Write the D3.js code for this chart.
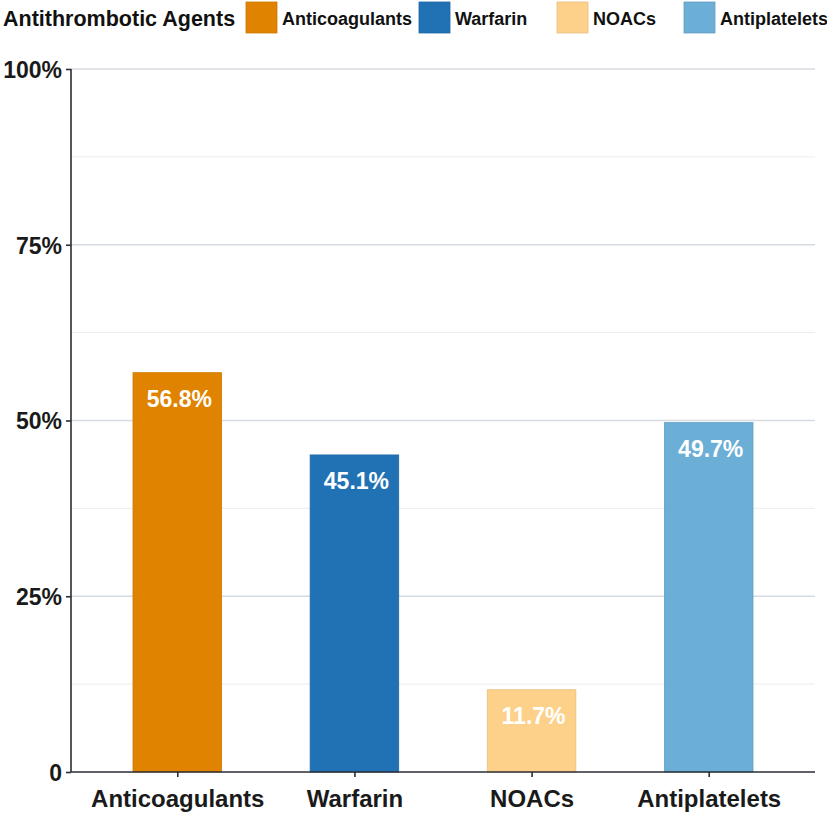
<!DOCTYPE html>
<html>
  <head>
    <meta charset="UTF-8">
    <title>Antithrombotic Agents</title>
    <script src="https://d3js.org/d3.v7.min.js"></script>
    <style>
      body { margin: 0; background: #fff; }
      text { font-family: "Liberation Sans", Arial, sans-serif; font-weight: bold; }
    </style>
  </head>

  <body>
    <div class="chart"></div>

    <script type="application/javascript">
      const categories = ["Anticoagulants", "Warfarin", "NOACs", "Antiplatelets"];
      const values = [56.8, 45.1, 11.7, 49.7];
      const colors = ["#e08300", "#2171b5", "#fdd18a", "#6baed6"];
      const yTicks = [0, 25, 50, 75, 100];
      const yMinor = [12.5, 37.5, 62.5, 87.5];
      const legendTitle = "Antithrombotic Agents";

      const width = 827, height = 814;
      const plotLeft = 71, plotRight = 815, plotTop = 69, plotBottom = 772;

      const svg = d3.select(".chart").append("svg")
              .attr("width", width)
              .attr("height", height)

      const x = d3.scalePoint().domain(categories).range([plotLeft, plotRight]).padding(0.6);
      const y = d3.scaleLinear().domain([0, 100]).range([plotBottom, plotTop]);
      const color = d3.scaleOrdinal().domain(categories).range(colors);
      const barW = x.step() * 0.5;

      // gridlines
      svg.append("g").selectAll("line").data(yMinor).join("line")
        .attr("x1", plotLeft).attr("x2", plotRight)
        .attr("y1", d => y(d)).attr("y2", d => y(d))
        .attr("stroke", "#ececec").attr("stroke-width", 1);
      svg.append("g").selectAll("line").data(yTicks.filter(d => d > 0)).join("line")
        .attr("x1", plotLeft).attr("x2", plotRight)
        .attr("y1", d => y(d)).attr("y2", d => y(d))
        .attr("stroke", "#d6dbe2").attr("stroke-width", 1.4);

      // bars
      svg.append("g").selectAll("rect").data(categories).join("rect")
        .attr("x", d => x(d) - barW / 2)
        .attr("width", barW)
        .attr("y", (d, i) => y(values[i]))
        .attr("height", (d, i) => y(0) - y(values[i]))
        .attr("fill", d => color(d))
        .attr("stroke", d => d3.color(color(d)).darker(0.25))
        .attr("stroke-width", 0.8);

      // value labels
      svg.append("g").selectAll("text").data(categories).join("text")
        .attr("x", d => x(d) + 2)
        .attr("y", (d, i) => y(values[i]) + 34)
        .attr("text-anchor", "middle")
        .attr("fill", "#fff")
        .style("font-size", "23px")
        .text((d, i) => values[i].toFixed(1) + "%");

      // axes
      const yAxis = d3.axisLeft(y).tickValues(yTicks).tickSize(5).tickPadding(4)
              .tickFormat(d => d == 0 ? "0" : d + "%");
      const gy = svg.append("g").attr("transform", `translate(${plotLeft},0)`).call(yAxis);
      gy.select(".domain").attr("stroke", "#2a2e35").attr("stroke-width", 1.6).attr("d", `M0,${plotBottom}V${plotTop}`);
      gy.selectAll(".tick line").attr("stroke", "#2a2e35").attr("stroke-width", 1.6);
      gy.selectAll(".tick text").attr("fill", "#1a1a1a").attr("dy", "0.36em")
        .style("font-size", "23px").style("font-family", "'Liberation Sans', Arial, sans-serif");

      const xAxis = d3.axisBottom(x).tickSize(5).tickPadding(8);
      const gx = svg.append("g").attr("transform", `translate(0,${plotBottom})`).call(xAxis);
      gx.select(".domain").attr("stroke", "#2a2e35").attr("stroke-width", 1.6).attr("d", `M${plotLeft},0H${plotRight}`);
      gx.selectAll(".tick line").attr("stroke", "#2a2e35").attr("stroke-width", 1.6);
      gx.selectAll(".tick text").attr("fill", "#1a1a1a").attr("dy", null).attr("y", 35)
        .style("font-size", "24px").style("font-family", "'Liberation Sans', Arial, sans-serif");

      // legend
      const legendX = [246, 419, 557, 684];
      const legend = svg.append("g");
      legend.append("text").attr("x", 3).attr("y", 26)
        .attr("fill", "#111").style("font-size", "21.5px").text(legendTitle);
      const items = legend.selectAll("g").data(categories).join("g")
        .attr("transform", (d, i) => `translate(${legendX[i]},2)`);
      items.append("rect").attr("width", 31).attr("height", 31)
        .attr("fill", d => color(d))
        .attr("stroke", d => d3.color(color(d)).darker(0.25)).attr("stroke-width", 0.8);
      items.append("text").attr("x", 36).attr("y", 23)
        .attr("fill", "#111").style("font-size", "18px").text(d => d);
    </script>
  </body>

</html>
